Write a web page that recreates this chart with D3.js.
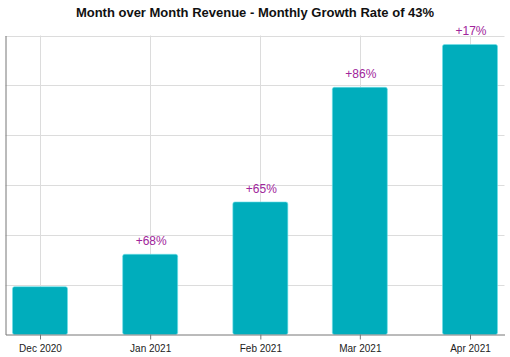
<!DOCTYPE html>
<html><head><meta charset="utf-8">
<script src="https://cdn.jsdelivr.net/npm/d3@7"></script>
<style>body{margin:0;background:#fff;} text{font-family:"Liberation Sans",Arial,Helvetica,sans-serif;}</style>
</head><body>
<svg id="c" width="510" height="357"></svg>
<script>
const months = ["2020-12-01","2021-01-01","2021-02-01","2021-03-01","2021-04-01"];
const monthLabels = ["Dec 2020","Jan 2021","Feb 2021","Mar 2021","Apr 2021"];
const revenue = [48, 80.5, 133, 248, 291];
const growthLabels = ["", "+68%", "+65%", "+86%", "+17%"];
const yTicks = [0, 50, 100, 150, 200, 250, 300];
const title = "Month over Month Revenue - Monthly Growth Rate of 43%";

(function () {
const svg = d3.select("#c");
const pLeft = 5.5, pRight = 504.5, pTop = 35.5, pBottom = 334.5;
const parse = d3.utcParse("%Y-%m-%d");
const dates = months.map(parse);
const x = d3.scaleUtc().domain([dates[0], dates[dates.length - 1]]).range([40, 470]);
x.domain([x.invert(pLeft), x.invert(pRight)]).range([pLeft, pRight]);
const y = d3.scaleLinear().domain([0, 300]).range([pBottom, pTop]);

svg.append("text").attr("x", 255).attr("y", 17).attr("text-anchor", "middle")
  .attr("font-size", 13).attr("font-weight", "bold").attr("fill", "#111").text(title);

// grid
svg.append("g").selectAll("line").data(yTicks.slice(1)).join("line")
  .attr("x1", pLeft).attr("x2", pRight).attr("y1", d => Math.round(y(d)) + 0.5).attr("y2", d => Math.round(y(d)) + 0.5)
  .attr("stroke", "#dcdcdc").attr("stroke-width", 1);
svg.append("g").selectAll("line").data(dates).join("line")
  .attr("x1", d => Math.round(x(d)) + 0.5).attr("x2", d => Math.round(x(d)) + 0.5)
  .attr("y1", pTop).attr("y2", pBottom).attr("stroke", "#dcdcdc");

// bars
const bw = 55;
svg.append("g").selectAll("rect").data(revenue).join("rect")
  .attr("x", (d, i) => x(dates[i]) - bw / 2)
  .attr("y", d => y(d))
  .attr("width", bw)
  .attr("height", d => pBottom - y(d))
  .attr("rx", 2)
  .attr("fill", "#00adbc")
  .attr("stroke", "#6fe0ea").attr("stroke-width", 0.6);

// labels
svg.append("g").selectAll("text").data(revenue).join("text")
  .attr("x", (d, i) => x(dates[i]) + 1)
  .attr("y", d => y(d) - 9)
  .attr("text-anchor", "middle").attr("font-size", 12).attr("fill", "#a0259b")
  .text((d, i) => growthLabels[i]);

// axes
const xAxis = d3.axisBottom(x).tickValues(dates).tickFormat((d, i) => monthLabels[i]).tickSize(5).tickSizeOuter(0);
const gx = svg.append("g").attr("transform", `translate(0,${pBottom})`).call(xAxis);
gx.select(".domain").attr("stroke", "#777");
gx.selectAll(".tick line").attr("stroke", "#777");
gx.selectAll(".tick text").attr("font-size", 10).attr("fill", "#222").attr("dy", "0.95em")
  .style("font-family", "Liberation Sans, Arial, sans-serif");

const yAxis = d3.axisLeft(y).tickValues(yTicks).tickFormat("").tickSize(0).tickSizeOuter(0);
const gy = svg.append("g").attr("transform", `translate(${pLeft},0)`).call(yAxis);
gy.select(".domain").attr("stroke", "#777");
})();
</script>
</body></html>
